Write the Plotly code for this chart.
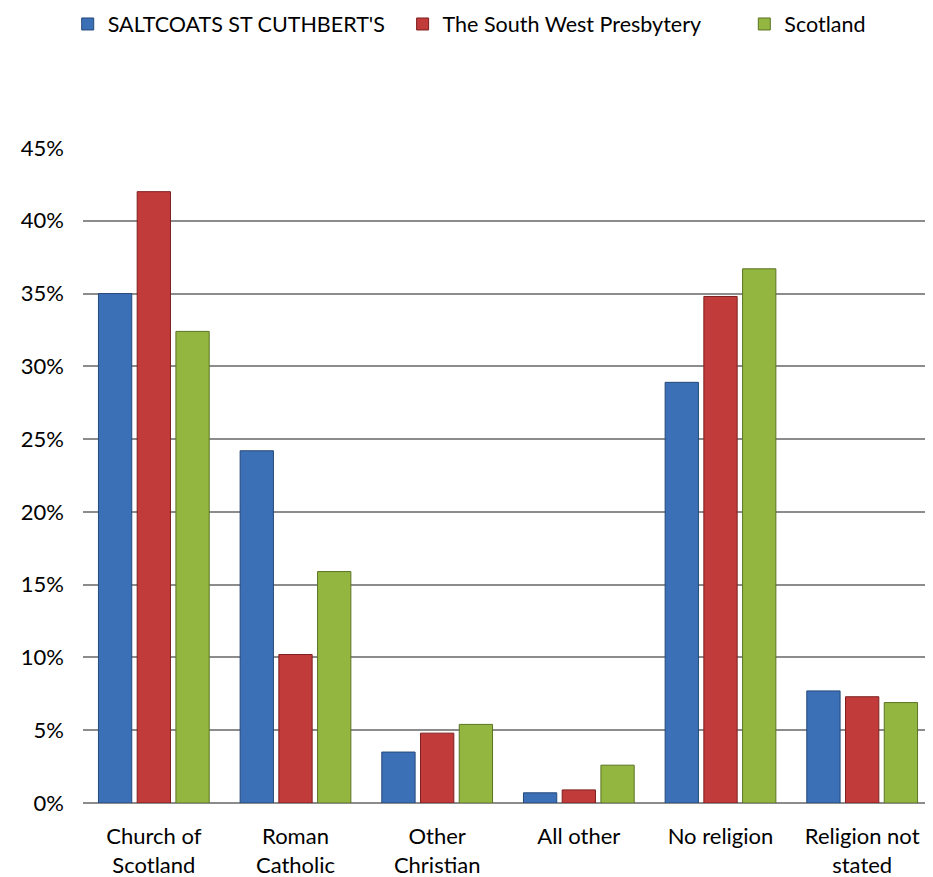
import plotly.graph_objects as go

categories = ["Church of<br>Scotland", "Roman<br>Catholic", "Other<br>Christian",
              "All other", "No religion", "Religion not<br>stated"]
saltcoats = [35.0, 24.2, 3.5, 0.7, 28.9, 7.7]
south_west = [42.0, 10.2, 4.8, 0.9, 34.8, 7.3]
scotland = [32.4, 15.9, 5.4, 2.6, 36.7, 6.9]
series_names = ["SALTCOATS ST CUTHBERT'S", "The South West Presbytery", "Scotland"]
tick_vals = [0, 5, 10, 15, 20, 25, 30, 35, 40, 45]
tick_text = [f"{v}%" for v in tick_vals]

fill_colors = ["#3c70b6", "#c23b3b", "#93b641"]
line_colors = ["#24497a", "#7e1f1f", "#5b7424"]
legend_ids = ["legend", "legend2", "legend3"]
legend_x = [-0.018, 0.376, 0.778]

FONT = "Lato, 'Open Sans', sans-serif"

fig = go.Figure()
for name, vals, fc, lc, lid in zip(series_names, [saltcoats, south_west, scotland],
                                   fill_colors, line_colors, legend_ids):
    fig.add_trace(go.Bar(
        name=name, x=categories, y=vals, legend=lid,
        marker=dict(color=fc, line=dict(color=lc, width=1)),
    ))

legend_common = dict(orientation="h", yref="container", y=1 - 16 / 869, yanchor="middle",
                     xanchor="left", font=dict(size=21.5, family=FONT, color="#000"),
                     bgcolor="rgba(0,0,0,0)")
layout_legends = {lid: dict(x=lx, **legend_common) for lid, lx in zip(legend_ids, legend_x)}

fig.update_layout(
    width=925, height=869,
    paper_bgcolor="white", plot_bgcolor="white",
    margin=dict(l=75, r=0, t=140, b=74),
    barmode="group", bargap=0.18, bargroupgap=0.14,
    font=dict(family=FONT, size=22, color="#000000"),
    showlegend=True,
    **layout_legends,
)
fig.update_yaxes(range=[0, 45], tickvals=tick_vals, ticktext=tick_text,
                 showgrid=True, gridcolor="#8c8c8c", gridwidth=1.5,
                 zeroline=True, zerolinecolor="#8c8c8c", zerolinewidth=1.5,
                 showline=False, ticks="", ticklabelstandoff=18,
                 tickfont=dict(size=22, family=FONT))
fig.update_xaxes(showgrid=False, showline=False, ticks="",
                 tickfont=dict(size=22, family=FONT), ticklabelstandoff=18)

fig.write_html("out.html")
